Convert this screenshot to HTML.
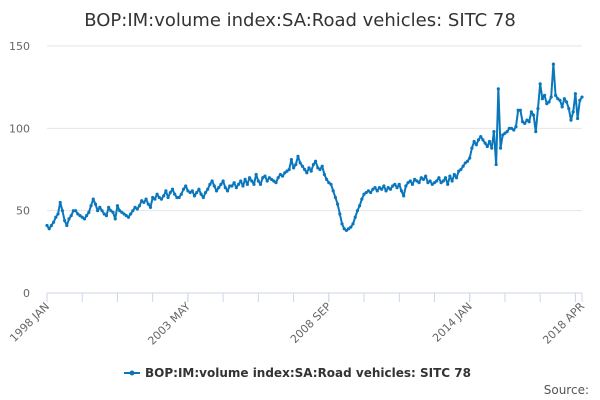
<!DOCTYPE html>
<html><head><meta charset="utf-8"><style>
body{margin:0;background:#fff;font-family:"DejaVu Sans",sans-serif}
svg{display:block;font-family:"DejaVu Sans",sans-serif}
</style></head><body>
<svg width="600" height="400" id="c">
<text x="300" y="26" text-anchor="middle" font-size="18" fill="#333">BOP:IM:volume index:SA:Road vehicles: SITC 78</text>
<g id="grid"></g><g id="axes"></g><g id="series"></g>
<g>
<line x1="124" y1="373" x2="140" y2="373" stroke="#0a77bd" stroke-width="2"/>
<circle cx="132" cy="373" r="2.5" fill="#0a77bd"/>
<text x="145" y="377" font-size="12" font-weight="bold" fill="#333">BOP:IM:volume index:SA:Road vehicles: SITC 78</text>
</g>
<text x="589" y="394" text-anchor="end" font-size="12" fill="#555">Source:</text>
</svg>
<script>
const values=[
41,39,41,43,46,48,55,50,44,41,45,47,
50,50,48,47,46,45,47,49,53,57,54,50,
52,50,48,47,52,50,49,45,53,50,49,48,
47,46,48,50,52,51,53,56,55,57,54,52,
58,57,60,58,57,59,62,58,61,63,60,58,
58,60,63,65,62,61,62,59,61,63,60,58,
61,63,66,68,65,62,64,66,68,64,62,65,
65,67,64,66,68,65,69,66,70,68,66,72,
68,66,70,71,68,70,69,68,67,70,72,71,
73,74,75,81,76,78,83,79,77,75,73,76,
74,78,80,76,75,77,72,69,67,66,62,58,
54,48,42,39,38,39,40,42,46,50,53,57,
60,61,62,61,63,64,62,64,63,65,62,64,
63,65,66,64,66,62,59,65,67,68,66,69,
68,67,70,69,71,67,68,66,67,68,70,67,
68,70,66,71,68,72,70,74,75,77,79,80,
82,88,92,90,93,95,93,91,89,92,88,98,
78,124,88,96,97,98,100,100,99,101,111,111,
104,103,105,104,110,108,98,112,127,118,120,115,
116,119,139,120,118,117,113,118,116,112,105,110,
121,106,117,119];
const yTicks=[0,50,100,150];
const xLabels=["1998 JAN","2003 MAY","2008 SEP","2014 JAN","2018 APR"];
const xLabelIdx=[0,64,128,192,243];
const X0=47,X1=582,Y0=293,Y1=46;
const xs=i=>X0+i*(X1-X0)/(values.length-1);
const ys=v=>Y0-(v/150)*(Y0-Y1);
const NS="http://www.w3.org/2000/svg";
function mk(t,a,p){const e=document.createElementNS(NS,t);for(const k in a)e.setAttribute(k,a[k]);p.appendChild(e);return e;}
const grid=document.getElementById('grid'),axes=document.getElementById('axes'),ser=document.getElementById('series');
yTicks.forEach(v=>{
 const l=mk('line',{x1:X0,x2:X1,y1:ys(v),y2:ys(v),stroke:v===0?'#ccd6eb':'#e6e6e6','stroke-width':1},grid);
 
 
 const t=mk('text',{x:30,y:ys(v)+4,'text-anchor':'end','font-size':11,fill:'#666'},axes);
 t.textContent=v;
 
 
});
for(let i=0;i<values.length;i+=16){
 const tk=mk('line',{x1:xs(i),x2:xs(i),y1:Y0,y2:Y0+9,stroke:'#ccd6eb'},axes);
 
 
}
xLabels.forEach((s,k)=>{
 const x=xs(xLabelIdx[k]);
 const tk=mk('line',{x1:x,x2:x,y1:Y0,y2:Y0+9,stroke:'#ccd6eb'},axes);
 
 
 const t=mk('text',{x:x+3,y:Y0+14,'text-anchor':'end','font-size':11,fill:'#666',transform:`rotate(-45 ${x+3} ${Y0+14})`},axes);
 t.textContent=s;
 
 
});
const pl=mk('polyline',{points:values.map((v,i)=>xs(i)+','+ys(v)).join(' '),fill:'none',stroke:'#0a77bd','stroke-width':2,'stroke-linejoin':'round'},ser);


values.forEach((v,i)=>{
 const c=mk('circle',{cx:xs(i),cy:ys(v),r:1.6,fill:'#0a77bd'},ser);
 
 
});
</script>
</body></html>
